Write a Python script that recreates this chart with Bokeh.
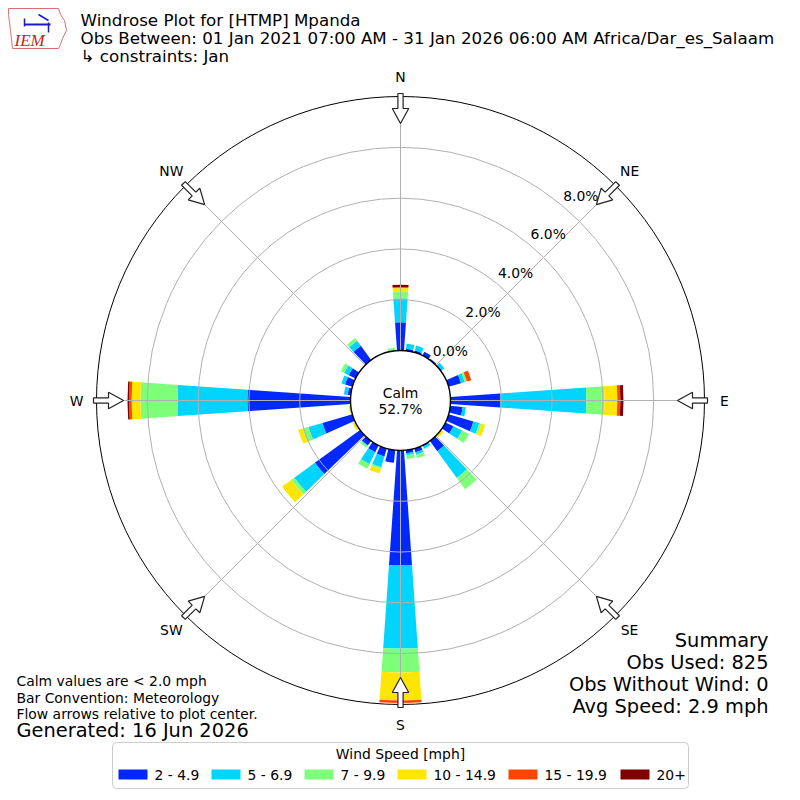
import numpy as np
from bokeh.plotting import figure
from bokeh.models import Range1d, ColumnDataSource
from bokeh.core.properties import value
from bokeh.embed import file_html
from bokeh.resources import INLINE

# ---------------- data ----------------
directions = list(range(0, 360, 10))
speed_bins = ["2 - 4.9", "5 - 6.9", "7 - 9.9", "10 - 14.9", "15 - 19.9", "20+"]
bin_colors = ["#0028ff", "#00d4ff", "#7dff7a", "#ffe600", "#ff4500", "#800000"]

#               0     10    20    30    40    50    60    70    80    90    100   110   120   130   140   150   160   170
pct_2_5   = [1.11, 0.08, 0.08, 0.17, 0.05, 0.05, 0.00, 0.51, 0.00, 1.97, 0.49, 1.02, 0.35, 0.00, 0.50, 0.05, 0.15, 0.12,
             4.53, 0.50, 0.33, 0.30, 0.22, 2.20, 0.00, 1.23, 0.00, 4.06, 0.12, 0.30, 0.30, 0.00, 0.69, 0.00, 0.00, 0.02]
pct_5_7   = [0.95, 0.20, 0.20, 0.00, 0.00, 0.12, 0.00, 0.15, 0.00, 3.38, 0.13, 0.24, 0.38, 0.00, 1.30, 0.10, 0.10, 0.08,
             3.27, 0.00, 0.44, 0.52, 0.03, 1.00, 0.00, 0.57, 0.00, 2.75, 0.15, 0.15, 0.20, 0.00, 0.25, 0.00, 0.00, 0.00]
pct_7_10  = [0.27, 0.00, 0.00, 0.00, 0.00, 0.00, 0.00, 0.09, 0.00, 0.71, 0.00, 0.08, 0.30, 0.00, 0.55, 0.00, 0.15, 0.15,
             0.94, 0.00, 0.07, 0.20, 0.08, 0.15, 0.00, 0.24, 0.00, 1.46, 0.00, 0.00, 0.15, 0.00, 0.13, 0.00, 0.00, 0.10]
pct_10_15 = [0.14, 0.00, 0.00, 0.00, 0.00, 0.00, 0.00, 0.00, 0.00, 0.51, 0.00, 0.16, 0.00, 0.12, 0.00, 0.00, 0.00, 0.00,
             1.10, 0.00, 0.18, 0.00, 0.00, 0.45, 0.12, 0.18, 0.08, 0.35, 0.00, 0.00, 0.00, 0.00, 0.00, 0.00, 0.00, 0.00]
pct_15_20 = [0.03, 0.00, 0.00, 0.00, 0.00, 0.00, 0.00, 0.18, 0.00, 0.12, 0.00, 0.00, 0.00, 0.00, 0.00, 0.00, 0.00, 0.00,
             0.10, 0.00, 0.00, 0.00, 0.00, 0.00, 0.00, 0.00, 0.00, 0.10, 0.00, 0.00, 0.00, 0.00, 0.00, 0.00, 0.00, 0.00]
pct_20p   = [0.09, 0.00, 0.00, 0.00, 0.00, 0.00, 0.00, 0.00, 0.00, 0.12, 0.00, 0.00, 0.00, 0.00, 0.00, 0.00, 0.00, 0.00,
             0.00, 0.00, 0.00, 0.00, 0.00, 0.00, 0.00, 0.00, 0.00, 0.06, 0.00, 0.00, 0.00, 0.00, 0.00, 0.00, 0.00, 0.00]
series = [pct_2_5, pct_5_7, pct_7_10, pct_10_15, pct_15_20, pct_20p]

calm_pct = 52.7
ring_values = [0, 2, 4, 6, 8]
ring_labels = ["0.0%", "2.0%", "4.0%", "6.0%", "8.0%"]
rmax_pct = 10
compass_labels = ["N", "NE", "E", "SE", "S", "SW", "W", "NW"]
compass_dirs = [0, 45, 90, 135, 180, 225, 270, 315]

title_lines = ["Windrose Plot for [HTMP] Mpanda",
               "Obs Between: 01 Jan 2021 07:00 AM - 31 Jan 2026 06:00 AM Africa/Dar_es_Salaam",
               "\u21b3 constraints: Jan"]
summary_lines = ["Summary", "Obs Used: 825", "Obs Without Wind: 0", "Avg Speed: 2.9 mph"]
note_lines = ["Calm values are < 2.0 mph", "Bar Convention: Meteorology",
              "Flow arrows relative to plot center."]
generated = "Generated: 16 Jun 2026"
legend_title = "Wind Speed [mph]"

# ---------------- geometry ----------------
CX, CY = 400, 400          # centre (page px, y-up data)
R0 = 50                    # calm circle radius
K = 25.4                   # px per percent
def rad(p):
    return R0 + K * np.asarray(p, dtype=float)
def Y(yp):
    return 800 - yp
FONT = value("DejaVu Sans")
S10 = "13.9px"

p = figure(width=784, height=792, x_range=Range1d(0, 784), y_range=Range1d(8, 800),
           output_backend="svg", toolbar_location=None, x_axis_type=None, y_axis_type=None,
           min_border=0, outline_line_color=None)
p.grid.visible = False
p.background_fill_color = "white"
p.border_fill_color = "white"

# ---------------- bars ----------------
xs, ys, rin, rout, sa, ea, cols = [], [], [], [], [], [], []
cum = np.zeros(len(directions))
for vals, col in zip(series, bin_colors):
    vals = np.asarray(vals, dtype=float)
    for i, d in enumerate(directions):
        if vals[i] > 0:
            a = 90 - d
            xs.append(CX); ys.append(CY)
            rin.append(float(rad(cum[i]))); rout.append(float(rad(min(cum[i] + vals[i], rmax_pct))))
            sa.append(np.radians(a - 4)); ea.append(np.radians(a + 4)); cols.append(col)
    cum += vals
src = ColumnDataSource(dict(x=xs, y=ys, rin=rin, rout=rout, sa=sa, ea=ea, c=cols))
p.annular_wedge(x="x", y="y", inner_radius="rin", outer_radius="rout", start_angle="sa",
                end_angle="ea", fill_color="c", line_color=None, source=src)

# ---------------- grid ----------------
for v in ring_values[1:]:
    p.circle(x=[CX], y=[CY], radius=float(rad(v)), fill_color=None, line_color="#b0b0b0", line_width=1)
r_out = float(rad(rmax_pct))
for d in compass_dirs:
    t = np.radians(d)
    p.line(x=[CX + R0 * np.sin(t), CX + r_out * np.sin(t)],
           y=[CY + R0 * np.cos(t), CY + r_out * np.cos(t)], line_color="#b0b0b0", line_width=1)
p.circle(x=[CX], y=[CY], radius=r_out, fill_color=None, line_color="black", line_width=1)
p.circle(x=[CX], y=[CY], radius=R0, fill_color="white", line_color="black", line_width=1.4)
p.text(x=[CX, CX], y=[CY + 8, CY - 8], text=["Calm", "%.1f%%" % calm_pct], text_font=FONT,
       text_font_size=S10, text_align="center", text_baseline="middle")

# arrows
axs, ays = [], []
shape = [(307, -2.6), (292, -2.6), (292, -8.2), (277, 0), (292, 8.2), (292, 2.6), (307, 2.6)]
for d in compass_dirs:
    t = np.radians(d)
    u = (np.sin(t), np.cos(t)); v = (np.cos(t), -np.sin(t))
    axs.append([CX + r * u[0] + w * v[0] for r, w in shape])
    ays.append([CY + r * u[1] + w * v[1] for r, w in shape])
p.patches(xs=axs, ys=ays, fill_color="white", line_color="#222222", line_width=1.2)

# compass labels
lr = 324
p.text(x=[CX + lr * np.sin(np.radians(d)) for d in compass_dirs],
       y=[CY + lr * np.cos(np.radians(d)) for d in compass_dirs],
       text=compass_labels, text_font=FONT, text_font_size=S10,
       text_align="center", text_baseline="middle")

# ring labels
ta = np.radians(40)
p.text(x=[CX + float(rad(v)) * np.sin(ta) + 0 for v in ring_values],
       y=[CY + float(rad(v)) * np.cos(ta) + 3 for v in ring_values],
       text=ring_labels, text_font=FONT, text_font_size=S10,
       text_align="left", text_baseline="bottom")

# ---------------- texts ----------------
p.text(x=[80, 80, 80], y=[Y(19), Y(37), Y(55)], text=title_lines, text_font=FONT,
       text_font_size="16.7px", text_align="left", text_baseline="middle")
p.text(x=[768] * 4, y=[Y(640), Y(662), Y(684), Y(706)], text=summary_lines, text_font=FONT,
       text_font_size="19.4px", text_align="right", text_baseline="middle")
p.text(x=[16] * 3, y=[Y(680), Y(697), Y(713)], text=note_lines, text_font=FONT,
       text_font_size=S10, text_align="left", text_baseline="middle")
p.text(x=[16], y=[Y(730)], text=[generated], text_font=FONT,
       text_font_size="19.4px", text_align="left", text_baseline="middle")

# ---------------- legend ----------------
p.quad(left=[112], right=[688], top=[Y(742)], bottom=[Y(788)], fill_color="white",
       line_color="#cccccc", line_width=1, border_radius=4)
p.text(x=[400], y=[Y(753)], text=[legend_title], text_font=FONT, text_font_size=S10,
       text_align="center", text_baseline="middle")
sw_left = [118, 211, 304, 397, 508, 620]
p.quad(left=sw_left, right=[s + 29 for s in sw_left], top=[Y(769)] * 6, bottom=[Y(779)] * 6,
       fill_color=bin_colors, line_color=None)
p.text(x=[s + 36 for s in sw_left], y=[Y(774)] * 6, text=speed_bins, text_font=FONT,
       text_font_size=S10, text_align="left", text_baseline="middle")

# ---------------- logo ----------------
logo_x = [8, 58, 60, 64, 66, 62, 60, 58, 12, 10, 8]
logo_y = [Y(8), Y(8), Y(14), Y(20), Y(30), Y(38), Y(44), Y(48), Y(48), Y(30), Y(14)]
p.patch(x=logo_x, y=logo_y, fill_color="white", line_color="#e07070", line_width=1)
p.line(x=[24, 50], y=[Y(24), Y(24)], line_color="#1a1acc", line_width=2)
p.line(x=[24, 24], y=[Y(18), Y(26)], line_color="#1a1acc", line_width=1.5)
p.line(x=[48, 48], y=[Y(22), Y(32)], line_color="#1a1acc", line_width=1.5)
p.line(x=[38, 48], y=[Y(14), Y(20)], line_color="#1a1acc", line_width=1.5)
p.text(x=[14], y=[Y(40)], text=["IEM"], text_font=value("Liberation Serif"), text_font_style="italic",
       text_font_size="17px", text_color="#cc2020", text_align="left", text_baseline="middle")

open("out.html", "w").write(file_html(p, INLINE))
